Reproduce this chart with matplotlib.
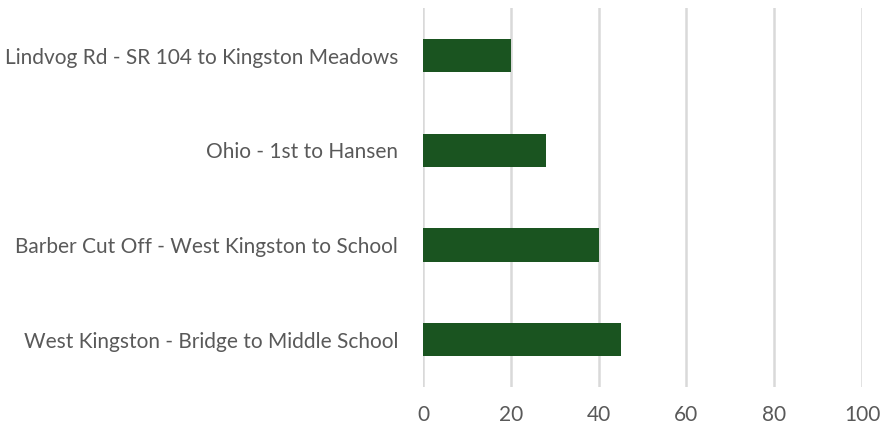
import matplotlib
matplotlib.use("Agg")
import matplotlib.pyplot as plt

categories = [
    "West Kingston - Bridge to Middle School",
    "Barber Cut Off - West Kingston to School",
    "Ohio - 1st to Hansen",
    "Lindvog Rd - SR 104 to Kingston Meadows",
]
values = [45, 40, 28, 20]
x_ticks = [0, 20, 40, 60, 80, 100]

plt.rcParams["font.family"] = ["Lato", "DejaVu Sans"]

fig = plt.figure(figsize=(8.85, 4.30), dpi=100)
ax = fig.add_axes([0.478, 0.1, 0.496, 0.881])

ax.barh(range(len(categories)), values, height=0.35, color="#1a5420",
        zorder=3)

ax.set_xlim(0, 100)
ax.set_ylim(-0.5, len(categories) - 0.5)
ax.set_xticks(x_ticks)
ax.set_yticks(range(len(categories)))
ax.set_yticklabels(categories)

ax.grid(axis="x", color="#d9d9d9", linewidth=1.8, zorder=0)
ax.grid(axis="y", visible=False)
for s in ax.spines.values():
    s.set_visible(False)

ax.tick_params(axis="both", length=0, labelsize=15, labelcolor="#595959")
ax.tick_params(axis="y", pad=18)
ax.tick_params(axis="x", pad=13)

fig.savefig("out.png", dpi=100)
